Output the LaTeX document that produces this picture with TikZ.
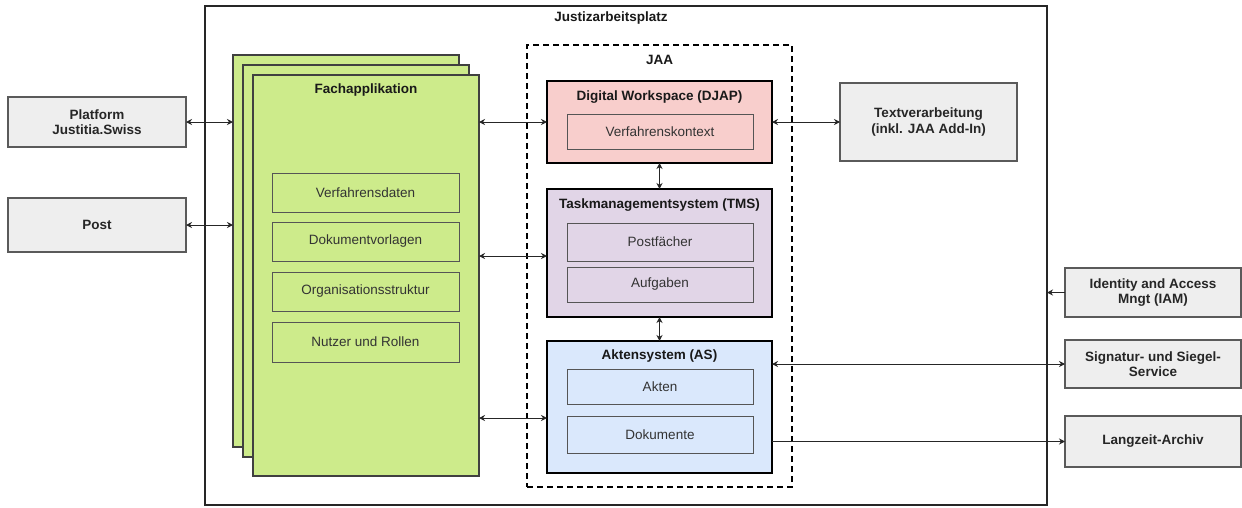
\documentclass[tikz,border=0pt]{standalone}
\usepackage{fontspec}
\setmainfont{Liberation Sans}
\usetikzlibrary{arrows.meta}
\definecolor{extfill}{HTML}{EEEEEE}
\definecolor{extdraw}{HTML}{5A5A5A}
\definecolor{appgreen}{HTML}{CDEB8B}
\definecolor{djapred}{HTML}{F8CECC}
\definecolor{tmsviolet}{HTML}{E1D5E7}
\definecolor{asblue}{HTML}{DAE8FC}
\definecolor{subtext}{HTML}{333333}
\definecolor{subdraw}{HTML}{555555}
\tikzset{
  box/.style={rectangle, inner sep=0pt, outer sep=0pt},
  extbox/.style={box, fill=extfill, draw=extdraw, line width=1.5pt, text=black!85, font=\bfseries\fontsize{13.5}{15.5}\selectfont, align=center},
  stackbox/.style={box, fill=appgreen, draw=black!75, line width=1.5pt},
  sysbox/.style={box, draw=black, line width=2pt},
  subbox/.style={box, draw=subdraw, line width=1pt, text=subtext, font=\fontsize{13.5}{15.5}\selectfont, minimum width=187pt},
  boxtitle/.style={font=\bfseries\fontsize{13.5}{15.5}\selectfont, text=black!90, inner sep=0pt},
  conn/.style={line width=0.9pt, draw=black!85, {Stealth[length=6pt,width=6pt]}-{Stealth[length=6pt,width=6pt]}},
  connto/.style={line width=0.9pt, draw=black!85, -{Stealth[length=6pt,width=6pt]}}
}
\begin{document}
\begin{tikzpicture}[x=1pt,y=-1pt]
\useasboundingbox (0,0) rectangle (1242,507);
\fill[white] (0,0) rectangle (1242,507);

% workplace frame
\node[box, draw=black!85, line width=2pt, minimum width=842pt, minimum height=499pt] (jap) at (626,255.5) {};
\node[boxtitle] (japtitle) at (611,18) {Justizarbeitsplatz};

% external systems
\node[extbox, minimum width=178pt, minimum height=50pt] (plat) at (97,122) {Platform\\Justitia.Swiss};
\node[extbox, minimum width=178pt, minimum height=54pt] (post) at (97,225) {Post};
\node[extbox, minimum width=177pt, minimum height=78pt] (tv) at (928.5,122) {Textverarbeitung\\(inkl. JAA Add-In)};
\node[extbox, minimum width=176pt, minimum height=49pt] (iam) at (1153,292.5) {Identity and Access\\Mngt (IAM)};
\node[extbox, minimum width=176pt, minimum height=48pt] (sig) at (1153,364) {Signatur- und Siegel-\\Service};
\node[extbox, minimum width=176pt, minimum height=51pt] (lz) at (1153,441.5) {Langzeit-Archiv};

% stacked business applications
\node[stackbox, minimum width=226pt, minimum height=392pt] (fa3) at (346,251) {};
\node[stackbox, minimum width=226pt, minimum height=392pt] (fa2) at (356,261) {};
\node[stackbox, minimum width=226pt, minimum height=401pt] (fa) at (366,275.5) {};
\node[boxtitle] (fatitle) at (366,90) {Fachapplikation};
\node[subbox, minimum height=39pt] (vd) at (365.5,192.5) {Verfahrensdaten};
\node[subbox, minimum height=39pt] (dv) at (365.5,241.5) {Dokumentvorlagen};
\node[subbox, minimum height=39pt] (os) at (365.5,291.5) {Organisationsstruktur};
\node[subbox, minimum height=40pt] (nr) at (365.5,342) {Nutzer und Rollen};

% JAA group
\node[box, draw=black, line width=1.5pt, dash pattern=on 6pt off 4pt, minimum width=265pt, minimum height=442pt] (jaa) at (659.5,266) {};
\node[boxtitle] (jaatitle) at (659.5,60) {JAA};

\node[sysbox, fill=djapred, minimum width=225pt, minimum height=82pt] (djap) at (659.5,122) {};
\node[boxtitle] (djaptitle) at (659.5,97) {Digital Workspace (DJAP)};
\node[subbox, minimum width=186pt, minimum height=35pt] (vk) at (660,131.5) {Verfahrenskontext};

\node[sysbox, fill=tmsviolet, minimum width=225pt, minimum height=128pt] (tms) at (659.5,253) {};
\node[boxtitle] (tmstitle) at (659.5,205) {Taskmanagementsystem (TMS)};
\node[subbox, minimum width=186pt, minimum height=38pt] (pf) at (660,242) {Postfächer};
\node[subbox, minimum width=186pt, minimum height=35pt] (af) at (660,284.5) {Aufgaben};

\node[sysbox, fill=asblue, minimum width=225pt, minimum height=132pt] (as) at (659.5,407) {};
\node[boxtitle] (astitle) at (659.5,356) {Aktensystem (AS)};
\node[subbox, minimum width=186pt, minimum height=35pt] (ak) at (660,386.5) {Akten};
\node[subbox, minimum width=186pt, minimum height=37pt] (dk) at (660,434.5) {Dokumente};

% connectors
\draw[conn] (plat.east) -- (plat.east -| fa3.west);
\draw[conn] (post.east) -- (post.east -| fa3.west);
\draw[conn] (fa.east |- djap.west) -- (djap.west);
\coordinate (tmsin) at (tms.west |- 0,256);
\draw[conn] (fa.east |- tmsin) -- (tmsin);
\coordinate (asin) at (as.west |- 0,418);
\draw[conn] (fa.east |- asin) -- (asin);
\draw[conn] (djap.east) -- (tv.west);
\draw[conn] (djap.south) -- (tms.north);
\draw[conn] (tms.south) -- (as.north);
\draw[conn] (as.east |- sig.west) -- (sig.west);
\draw[connto] (as.east |- lz.west) -- (lz.west);
\draw[connto] (iam.west) -- (iam.west -| jap.east);
\end{tikzpicture}
\end{document}
